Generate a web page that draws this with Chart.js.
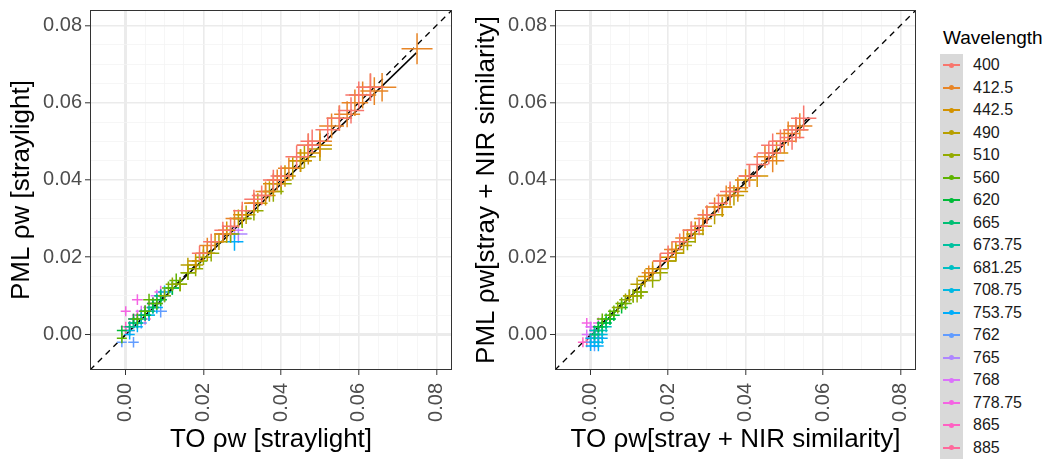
<!DOCTYPE html>
<html>
<head>
<meta charset="utf-8">
<script src="https://cdn.jsdelivr.net/npm/chart.js@4"></script>
<style>
  body { margin: 0; background: #fff; font-family: "Liberation Sans", Arial, sans-serif; }
  #wrap { position: relative; width: 1051px; height: 459px; }
  .panel { position: absolute; top: 0; }
  #legend { position: absolute; left: 940px; top: 27px; }
  #legend .title { font-size: 19px; color: #000; margin-left: 3px; height: 27px; }
  #legend .row { position: relative; height: 22.5px; }
  #legend .key { position: absolute; left: 0; top: 0; width: 23px; height: 22.5px; background: #d9d9d9; }
  #legend .key .ln { position: absolute; left: 3px; top: 10px; width: 17px; height: 2px; }
  #legend .key .dot { position: absolute; left: 8.5px; top: 8.5px; width: 5px; height: 5px; border-radius: 50%; }
  #legend .lab { position: absolute; left: 33px; top: 2px; font-size: 16px; color: #1a1a1a; }
</style>
</head>
<body>
<div id="wrap">
  <div class="panel" style="left:0;width:460px;height:459px"><canvas id="chart1" width="460" height="459"></canvas></div>
  <div class="panel" style="left:465px;width:455px;height:459px"><canvas id="chart2" width="455" height="459"></canvas></div>
  <div id="legend"></div>
</div>
<script>
// wavelengths (nm), one colour each
const wavelengths = ['400', '412.5', '442.5', '490', '510', '560', '620', '665', '673.75',
  '681.25', '708.75', '753.75', '762', '765', '768', '778.75', '865', '885'];

// left panel: TO vs PML, straylight corrected
const leftX = [
  [0.019, 0.022, 0.025, 0.027, 0.030, 0.033, 0.035, 0.038, 0.040, 0.044, 0.047, 0.048, 0.052, 0.055, 0.058, 0.060, 0.063],
  [0.021, 0.025, 0.028, 0.033, 0.036, 0.039, 0.042, 0.047, 0.050, 0.053, 0.057, 0.059, 0.061, 0.063, 0.064, 0.066, 0.075],
  [0.018, 0.020, 0.023, 0.026, 0.030, 0.033, 0.036, 0.038, 0.041, 0.045, 0.047, 0.050, 0.055],
  [0.016, 0.018, 0.021, 0.024, 0.026, 0.029, 0.031, 0.034, 0.037, 0.040, 0.043, 0.046, 0.050],
  [0.010, 0.012, 0.014, 0.016, 0.018, 0.020, 0.022, 0.025, 0.027, 0.030, 0.033, 0.038, 0.040, 0.045],
  [-0.001, 0.003, 0.005, 0.006, 0.008, 0.011, 0.013, 0.014, 0.016, 0.019, 0.030],
  [-0.001, 0.002, 0.005, 0.007, 0.009, 0.012],
  [0.001, 0.003, 0.005, 0.007, 0.009],
  [0.002, 0.004, 0.006, 0.008],
  [0.002, 0.004, 0.007, 0.009],
  [0.001, 0.003, 0.006, 0.010, 0.012],
  [0.001, 0.003, 0.005, 0.008, 0.010, 0.028],
  [-0.001, 0.002, 0.004, 0.006, 0.009, 0.027],
  [0.001, 0.003, 0.006, 0.008, 0.029],
  [0.002, 0.004, 0.006, 0.008, 0.028],
  [0.000, 0.001, 0.003, 0.005, 0.007, 0.009],
  [0.000, 0.001, 0.002, 0.003, 0.005, 0.007],
  [0.000, 0.001, 0.002, 0.004, 0.006]
];
const leftY = [
  [0.021, 0.024, 0.027, 0.028, 0.032, 0.035, 0.036, 0.040, 0.041, 0.046, 0.049, 0.050, 0.053, 0.056, 0.058, 0.062, 0.064],
  [0.023, 0.026, 0.030, 0.034, 0.037, 0.040, 0.043, 0.049, 0.050, 0.054, 0.057, 0.060, 0.062, 0.064, 0.063, 0.064, 0.074],
  [0.019, 0.021, 0.024, 0.027, 0.031, 0.034, 0.036, 0.039, 0.041, 0.045, 0.047, 0.049, 0.056],
  [0.018, 0.018, 0.021, 0.024, 0.026, 0.030, 0.031, 0.034, 0.037, 0.040, 0.043, 0.046, 0.048],
  [0.010, 0.013, 0.013, 0.016, 0.017, 0.020, 0.021, 0.026, 0.026, 0.030, 0.032, 0.037, 0.039, 0.045],
  [-0.001, 0.004, 0.006, 0.009, 0.008, 0.012, 0.014, 0.013, 0.016, 0.019, 0.030],
  [0.001, 0.004, 0.005, 0.008, 0.009, 0.012],
  [0.002, 0.003, 0.006, 0.007, 0.010],
  [0.003, 0.005, 0.006, 0.009],
  [0.003, 0.004, 0.007, 0.010],
  [0.001, 0.003, 0.005, 0.011, 0.012],
  [0.000, 0.002, 0.005, 0.007, 0.010, 0.024],
  [-0.002, -0.002, 0.003, 0.005, 0.006, 0.026],
  [0.002, 0.004, 0.006, 0.008, 0.026],
  [0.004, 0.006, 0.007, 0.010, 0.027],
  [0.006, 0.002, 0.009, 0.006, 0.008, 0.011],
  [0.002, 0.001, 0.003, 0.005, 0.004, 0.008],
  [0.001, 0.002, 0.004, 0.005, 0.006]
];

// right panel: TO vs PML, straylight + NIR similarity
const rightX = [
  [0.018, 0.020, 0.023, 0.026, 0.028, 0.030, 0.033, 0.036, 0.041, 0.043, 0.046, 0.047, 0.049, 0.052, 0.053, 0.055],
  [0.015, 0.018, 0.021, 0.024, 0.026, 0.029, 0.032, 0.035, 0.038, 0.041, 0.045, 0.047, 0.050, 0.051, 0.054],
  [0.014, 0.016, 0.020, 0.022, 0.025, 0.027, 0.030, 0.034, 0.036, 0.038, 0.040, 0.043, 0.048, 0.053],
  [0.010, 0.012, 0.014, 0.016, 0.018, 0.020, 0.022, 0.024, 0.027, 0.029, 0.032, 0.034, 0.037],
  [0.007, 0.009, 0.011, 0.012, 0.013, 0.016, 0.018, 0.020, 0.022, 0.025],
  [0.003, 0.005, 0.006, 0.008, 0.009, 0.010, 0.011, 0.013],
  [0.002, 0.003, 0.004, 0.005, 0.006, 0.008],
  [0.001, 0.002, 0.003, 0.004, 0.005],
  [0.001, 0.002, 0.003, 0.004],
  [0.001, 0.002, 0.003, 0.004],
  [0.000, 0.001, 0.002, 0.003],
  [0.000, 0.001, 0.002, 0.003],
  [0.000, 0.001, 0.002],
  [0.000, 0.001, 0.002],
  [-0.001, 0.000, 0.001],
  [-0.001, 0.000, 0.001, 0.002],
  [-0.002, 0.000, 0.001, 0.002],
  [-0.001, 0.000, 0.002]
];
const rightY = [
  [0.019, 0.021, 0.024, 0.027, 0.028, 0.031, 0.034, 0.037, 0.041, 0.044, 0.047, 0.049, 0.050, 0.051, 0.053, 0.056],
  [0.016, 0.019, 0.022, 0.025, 0.027, 0.030, 0.033, 0.036, 0.038, 0.041, 0.046, 0.045, 0.050, 0.052, 0.054],
  [0.015, 0.017, 0.020, 0.022, 0.025, 0.027, 0.031, 0.033, 0.036, 0.037, 0.040, 0.041, 0.047, 0.053],
  [0.010, 0.013, 0.014, 0.016, 0.017, 0.019, 0.021, 0.023, 0.026, 0.028, 0.031, 0.033, 0.036],
  [0.007, 0.009, 0.010, 0.010, 0.011, 0.014, 0.016, 0.019, 0.021, 0.024],
  [0.004, 0.005, 0.006, 0.008, 0.008, 0.010, 0.010, 0.011],
  [0.002, 0.003, 0.004, 0.004, 0.005, 0.007],
  [0.000, 0.002, 0.002, 0.003, 0.004],
  [0.000, 0.001, 0.002, 0.003],
  [0.001, 0.000, 0.001, 0.002],
  [-0.001, -0.001, -0.002, 0.000],
  [-0.003, -0.002, -0.003, -0.001],
  [-0.002, -0.003, -0.001],
  [-0.001, 0.000, -0.001],
  [0.000, 0.002, 0.001],
  [0.003, 0.002, 0.001, 0.003],
  [-0.002, -0.001, -0.001, 0.000],
  [-0.002, -0.001, -0.001]
];

// fitted lines (end points) and axis range
const leftFit = [[-0.0009, -0.0009], [0.0748, 0.0729]];
const rightFit = [[-0.0012, -0.0016], [0.0567, 0.0560]];
const axisMin = -0.0092;
const axisMax = 0.084;

// ggplot-like hue palette (hcl, c=100, l=65)
function hcl(h, c, l) {
  const hr = h * Math.PI / 180;
  const U = c * Math.cos(hr), V = c * Math.sin(hr);
  const Xn = 95.047, Yn = 100, Zn = 108.883;
  const un = 4 * Xn / (Xn + 15 * Yn + 3 * Zn), vn = 9 * Yn / (Xn + 15 * Yn + 3 * Zn);
  const Y = l > 8 ? Yn * Math.pow((l + 16) / 116, 3) : Yn * l / 903.3;
  const u = U / (13 * l) + un, v = V / (13 * l) + vn;
  const X = 9 * Y * u / (4 * v);
  const Z = -X / 3 - 5 * Y + 3 * Y / v;
  const x = X / 100, y = Y / 100, z = Z / 100;
  const lin = [
    3.240479 * x - 1.537150 * y - 0.498535 * z,
    -0.969256 * x + 1.875992 * y + 0.041556 * z,
    0.055648 * x - 0.204043 * y + 1.057311 * z
  ];
  const rgb = lin.map(t => {
    t = t <= 0.0031308 ? 12.92 * t : 1.055 * Math.pow(t, 1 / 2.4) - 0.055;
    return Math.round(Math.min(1, Math.max(0, t)) * 255);
  });
  return 'rgb(' + rgb.join(',') + ')';
}
const colors = wavelengths.map((w, i) => hcl(15 + i * 360 / wavelengths.length, 100, 65));

const isMajor = v => Math.abs(v * 50 - Math.round(v * 50)) < 1e-6;
const isZero = v => Math.abs(v) < 1e-9;

// panel border like ggplot theme_bw
const borderPlugin = {
  id: 'panelBorder',
  afterDraw(chart) {
    const a = chart.chartArea, ctx = chart.ctx;
    ctx.save();
    ctx.strokeStyle = '#333333';
    ctx.lineWidth = 1;
    ctx.strokeRect(a.left + 0.5, a.top + 0.5, a.right - a.left - 1, a.bottom - a.top - 1);
    ctx.restore();
  }
};

function makeScale(title, horizontal, axisSize) {
  return {
    type: 'linear',
    min: axisMin,
    max: axisMax,
    afterBuildTicks: s => {
      const t = [];
      for (let k = 0; k <= 8; k += 0.5) t.push({ value: Math.round(k * 2) / 200 });
      s.ticks = t;
    },
    // fixed axis box and no label overflow padding, so both panels get the same plot box
    afterFit: s => {
      if (horizontal) { s.height = axisSize; s.paddingLeft = 0; s.paddingRight = 0; }
      else { s.width = axisSize; s.paddingTop = 0; s.paddingBottom = 0; }
    },
    grid: {
      color: ctx => isMajor(ctx.tick.value) ? '#ebebeb' : '#f4f4f4',
      lineWidth: ctx => isZero(ctx.tick.value) ? 3 : (isMajor(ctx.tick.value) ? 1.6 : 0.8),
      tickColor: ctx => isMajor(ctx.tick.value) ? '#333333' : 'rgba(0,0,0,0)',
      tickLength: 5,
      tickWidth: 1
    },
    border: { display: false },
    ticks: {
      autoSkip: false,
      maxRotation: horizontal ? 90 : 0,
      minRotation: horizontal ? 90 : 0,
      padding: horizontal ? 8 : 3,
      color: '#4d4d4d',
      font: { family: '"Liberation Sans", Arial, sans-serif', size: 20 },
      callback: v => isMajor(v) ? v.toFixed(2) : ''
    },
    title: {
      display: true,
      text: title,
      color: '#000000',
      font: { family: '"Liberation Sans", Arial, sans-serif', size: 26 },
      padding: horizontal ? { top: 0, bottom: 4 } : { top: 6, bottom: 0 }
    }
  };
}

function makeChart(id, xs, ys, fit, xTitle, yTitle, padRight) {
  const datasets = wavelengths.map((w, i) => ({
    label: w,
    data: xs[i].map((x, j) => ({ x: x, y: ys[i][j] })),
    pointStyle: 'cross',
    radius: ctx => 5 + Math.max(0, ctx.raw ? ctx.raw.x : 0) * 140,
    borderColor: colors[i],
    backgroundColor: colors[i],
    borderWidth: 1.5,
    showLine: false
  }));
  datasets.push({
    label: 'fit',
    type: 'line',
    data: fit.map(p => ({ x: p[0], y: p[1] })),
    borderColor: '#000000',
    borderWidth: 1.5,
    pointRadius: 0
  });
  datasets.push({
    label: '1:1',
    type: 'line',
    data: [{ x: axisMin, y: axisMin }, { x: axisMax, y: axisMax }],
    borderColor: '#000000',
    borderWidth: 1.3,
    borderDash: [6, 5],
    pointRadius: 0
  });
  new Chart(document.getElementById(id).getContext('2d'), {
    type: 'scatter',
    data: { datasets: datasets },
    options: {
      responsive: false,
      animation: false,
      layout: { autoPadding: false, padding: { top: 10, right: padRight, bottom: 0, left: 0 } },
      plugins: { legend: { display: false }, tooltip: { enabled: false } },
      scales: {
        x: makeScale(xTitle, true, 89),
        y: makeScale(yTitle, false, 90)
      }
    },
    plugins: [borderPlugin]
  });
}

makeChart('chart1', leftX, leftY, leftFit, 'TO ρw [straylight]', 'PML ρw [straylight]', 8);
makeChart('chart2', rightX, rightY, rightFit, 'TO ρw[stray + NIR similarity]', 'PML ρw[stray + NIR similarity]', 4);

// legend
const legend = document.getElementById('legend');
legend.innerHTML = '<div class="title">Wavelength</div>' + wavelengths.map((w, i) =>
  '<div class="row"><div class="key"><div class="ln" style="background:' + colors[i] +
  '"></div><div class="dot" style="background:' + colors[i] + '"></div></div>' +
  '<div class="lab">' + w + '</div></div>').join('');
</script>
</body>
</html>
